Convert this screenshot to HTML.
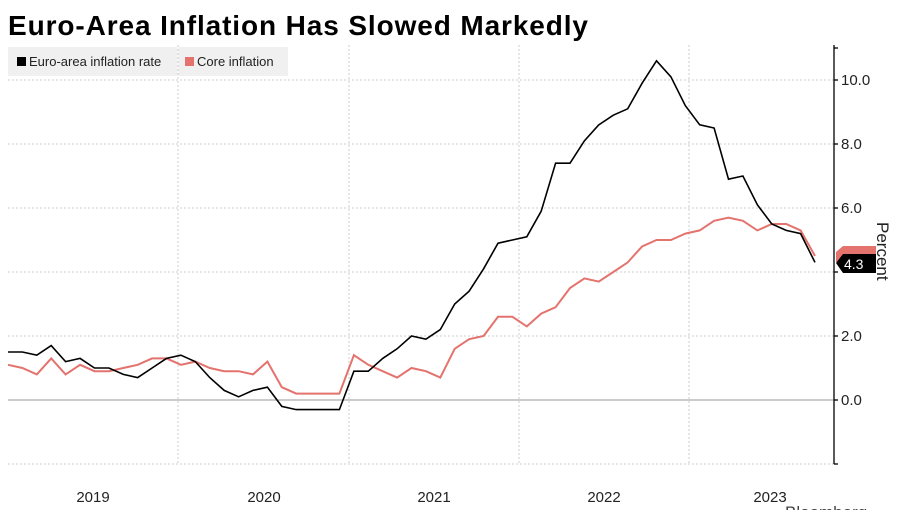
<!DOCTYPE html>
<html><head><meta charset="utf-8"><style>
body{margin:0;background:#fff;width:900px;height:510px;overflow:hidden;font-family:"Liberation Sans",sans-serif}
</style></head><body>
<svg width="900" height="510" xmlns="http://www.w3.org/2000/svg" font-family="Liberation Sans, sans-serif">
<text x="8" y="35" font-size="28" font-weight="bold" fill="#000" textLength="580" lengthAdjust="spacing">Euro-Area Inflation Has Slowed Markedly</text>
<rect x="8" y="47" width="280" height="29" fill="#f0f0f0"/>
<line x1="178" y1="47" x2="178" y2="76" stroke="#fff" stroke-width="1"/>
<rect x="17" y="57" width="9" height="9" fill="#000"/>
<text x="29" y="66" font-size="13" fill="#222">Euro-area inflation rate</text>
<rect x="185" y="57" width="9" height="9" fill="#e4736e"/>
<text x="197" y="66" font-size="13" fill="#222">Core inflation</text>
<g stroke="#ccc" stroke-dasharray="2,2" stroke-width="1">
<line x1="8" y1="80" x2="834" y2="80"/><line x1="8" y1="144" x2="834" y2="144"/>
<line x1="8" y1="208" x2="834" y2="208"/><line x1="8" y1="272" x2="834" y2="272"/>
<line x1="8" y1="336" x2="834" y2="336"/><line x1="8" y1="464" x2="834" y2="464"/>
<line x1="178" y1="45" x2="178" y2="464"/><line x1="349" y1="45" x2="349" y2="464"/>
<line x1="519" y1="45" x2="519" y2="464"/><line x1="689" y1="45" x2="689" y2="464"/>
</g>
<line x1="8" y1="400" x2="834" y2="400" stroke="#999" stroke-width="1"/>
<line x1="834" y1="45" x2="834" y2="464" stroke="#000" stroke-width="1.3"/>
<g stroke="#000" stroke-width="1.3">
<line x1="834" y1="48" x2="838" y2="48"/><line x1="834" y1="80" x2="838" y2="80"/><line x1="834" y1="144" x2="838" y2="144"/><line x1="834" y1="208" x2="838" y2="208"/><line x1="834" y1="272" x2="838" y2="272"/><line x1="834" y1="336" x2="838" y2="336"/><line x1="834" y1="400" x2="838" y2="400"/><line x1="834" y1="464" x2="838" y2="464"/>
</g>
<g font-size="15" fill="#222">
<text x="841" y="85">10.0</text><text x="841" y="149">8.0</text><text x="841" y="213">6.0</text>
<text x="841" y="341">2.0</text><text x="841" y="405">0.0</text>
</g>
<text transform="translate(877,222) rotate(90)" font-size="17" fill="#222">Percent</text>
<g font-size="15" fill="#222" text-anchor="middle">
<text x="93" y="502">2019</text><text x="264" y="502">2020</text><text x="434" y="502">2021</text><text x="604" y="502">2022</text><text x="770" y="502">2023</text>
</g>
<text x="785" y="518" font-size="17" fill="#444">Bloomberg</text>
<polyline id="core" fill="none" stroke="#e4736e" stroke-width="2" points=""/>
<polyline id="head" fill="none" stroke="#000" stroke-width="1.6" points=""/>
<polygon points="836,252 843,246 876,246 876,262 836,262" fill="#e4736e"/>
<polygon points="836,263 843,254 876,254 876,273 843,273" fill="#000"/>
<text x="844" y="269" font-size="14" fill="#fff">4.3</text>
</svg>
<script>
var h=[1.5,1.5,1.4,1.7,1.2,1.3,1.0,1.0,0.8,0.7,1.0,1.3,1.4,1.2,0.7,0.3,0.1,0.3,0.4,-0.2,-0.3,-0.3,-0.3,-0.3,0.9,0.9,1.3,1.6,2.0,1.9,2.2,3.0,3.4,4.1,4.9,5.0,5.1,5.9,7.4,7.4,8.1,8.6,8.9,9.1,9.9,10.6,10.1,9.2,8.6,8.5,6.9,7.0,6.1,5.5,5.3,5.2,4.3];
var c=[1.1,1.0,0.8,1.3,0.8,1.1,0.9,0.9,1.0,1.1,1.3,1.3,1.1,1.2,1.0,0.9,0.9,0.8,1.2,0.4,0.2,0.2,0.2,0.2,1.4,1.1,0.9,0.7,1.0,0.9,0.7,1.6,1.9,2.0,2.6,2.6,2.3,2.7,2.9,3.5,3.8,3.7,4.0,4.3,4.8,5.0,5.0,5.2,5.3,5.6,5.7,5.6,5.3,5.5,5.5,5.3,4.5];
function pts(a){var s=[],n=a.length,st=807/(n-1);for(var i=0;i<n;i++)s.push((8+i*st).toFixed(1)+","+(400-32*a[i]).toFixed(1));return s.join(" ");}
document.getElementById("head").setAttribute("points",pts(h));
document.getElementById("core").setAttribute("points",pts(c));
</script>
</body></html>
